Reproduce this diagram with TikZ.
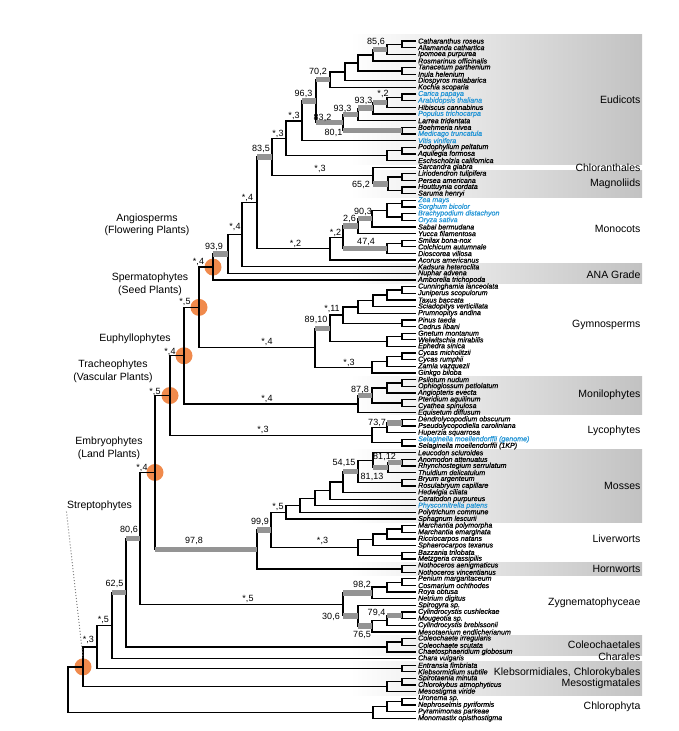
\documentclass[tikz,border=0pt]{standalone}
\usepackage{fontspec}
\setmainfont{Liberation Sans}
\newfontface\taxfont[FakeBold=0.8]{Liberation Sans Italic}
\definecolor{taxblue}{RGB}{38,150,214}
\definecolor{hubcol}{RGB}{240,138,76}
\begin{document}
\begin{tikzpicture}[x=1pt,y=-1pt,line width=1.3pt,
  taxon/.style={anchor=west,inner sep=1.5pt,font=\fontsize{7.1}{7.1}\taxfont},
  blu/.style={taxon,text=taxblue},
  supbar/.style={line width=5.5pt,black!42},
  boot/.style={inner sep=0pt,font=\fontsize{9}{9}\selectfont},
  clade/.style={anchor=east,inner sep=0pt,font=\fontsize{10.5}{10.5}\selectfont},
  grouplab/.style={align=center,inner sep=0pt,font=\fontsize{10.5}{12.5}\selectfont},
  hub/.style={circle,fill=hubcol,minimum size=17pt,inner sep=0pt}]
\useasboundingbox(0,0)rectangle(678,731);

% bands
\shade[left color=white,right color=black!24](350,34)rectangle(642,164);
\shade[left color=white,right color=black!24](350,170.5)rectangle(642,197);
\shade[left color=white,right color=black!24](350,263.5)rectangle(642,283.5);
\shade[left color=white,right color=black!24](350,376)rectangle(642,414);
\shade[left color=white,right color=black!24](350,449.4)rectangle(642,522.4);
\shade[left color=white,right color=black!24](350,562.3)rectangle(642,575.5);
\shade[left color=white,right color=black!24](350,635.3)rectangle(642,655.2);
\shade[left color=white,right color=black!24](350,661.9)rectangle(642,695);

% taxa
\node[taxon](t1) at (416,41.0){Catharanthus roseus};
\node[taxon](t2) at (416,47.6){Allamanda cathartica};
\node[taxon](t3) at (416,54.3){Ipomoea purpurea};
\node[taxon](t4) at (416,60.9){Rosmarinus officinalis};
\node[taxon](t5) at (416,67.6){Tanacetum parthenium};
\node[taxon](t6) at (416,74.2){Inula helenium};
\node[taxon](t7) at (416,80.8){Diospyros malabarica};
\node[taxon](t8) at (416,87.5){Kochia scoparia};
\node[blu](t9) at (416,94.1){Carica papaya};
\node[blu](t10) at (416,100.8){Arabidopsis thaliana};
\node[taxon](t11) at (416,107.4){Hibiscus cannabinus};
\node[blu](t12) at (416,114.0){Populus trichocarpa};
\node[taxon](t13) at (416,120.7){Larrea tridentata};
\node[taxon](t14) at (416,127.3){Boehmeria nivea};
\node[blu](t15) at (416,134.0){Medicago truncatula};
\node[blu](t16) at (416,140.6){Vitis vinifera};
\node[taxon](t17) at (416,147.2){Podophyllum peltatum};
\node[taxon](t18) at (416,153.9){Aquilegia formosa};
\node[taxon](t19) at (416,160.5){Eschscholzia californica};
\node[taxon](t20) at (416,167.2){Sarcandra glabra};
\node[taxon](t21) at (416,173.8){Liriodendron tulipifera};
\node[taxon](t22) at (416,180.4){Persea americana};
\node[taxon](t23) at (416,187.1){Houttuynia cordata};
\node[taxon](t24) at (416,193.7){Saruma henryi};
\node[blu](t25) at (416,200.4){Zea mays};
\node[blu](t26) at (416,207.0){Sorghum bicolor};
\node[blu](t27) at (416,213.6){Brachypodium distachyon};
\node[blu](t28) at (416,220.3){Oryza sativa};
\node[taxon](t29) at (416,226.9){Sabal bermudana};
\node[taxon](t30) at (416,233.6){Yucca filamentosa};
\node[taxon](t31) at (416,240.2){Smilax bona-nox};
\node[taxon](t32) at (416,246.8){Colchicum autumnale};
\node[taxon](t33) at (416,253.5){Dioscorea villosa};
\node[taxon](t34) at (416,260.1){Acorus americanus};
\node[taxon](t35) at (416,266.8){Kadsura heteroclita};
\node[taxon](t36) at (416,273.4){Nuphar advena};
\node[taxon](t37) at (416,280.0){Amborella trichopoda};
\node[taxon](t38) at (416,286.7){Cunninghamia lanceolata};
\node[taxon](t39) at (416,293.3){Juniperus scopulorum};
\node[taxon](t40) at (416,300.0){Taxus baccata};
\node[taxon](t41) at (416,306.6){Sciadopitys verticillata};
\node[taxon](t42) at (416,313.2){Prumnopitys andina};
\node[taxon](t43) at (416,319.9){Pinus taeda};
\node[taxon](t44) at (416,326.5){Cedrus libani};
\node[taxon](t45) at (416,333.2){Gnetum montanum};
\node[taxon](t46) at (416,339.8){Welwitschia mirabilis};
\node[taxon](t47) at (416,346.4){Ephedra sinica};
\node[taxon](t48) at (416,353.1){Cycas micholitzii};
\node[taxon](t49) at (416,359.7){Cycas rumphii};
\node[taxon](t50) at (416,366.4){Zamia vazquezii};
\node[taxon](t51) at (416,373.0){Ginkgo biloba};
\node[taxon](t52) at (416,379.6){Psilotum nudum};
\node[taxon](t53) at (416,386.3){Ophioglossum petiolatum};
\node[taxon](t54) at (416,392.9){Angiopteris evecta};
\node[taxon](t55) at (416,399.6){Pteridium aquilinum};
\node[taxon](t56) at (416,406.2){Cyathea spinulosa};
\node[taxon](t57) at (416,412.8){Equisetum diffusum};
\node[taxon](t58) at (416,419.5){Dendrolycopodium obscurum};
\node[taxon](t59) at (416,426.1){Pseudolycopodiella caroliniana};
\node[taxon](t60) at (416,432.8){Huperzia squarrosa};
\node[blu](t61) at (416,439.4){Selaginella moellendorffii (genome)};
\node[taxon](t62) at (416,446.0){Selaginella moellendorffii {\fontsize{7.1}{7.1}\selectfont(1KP)}};
\node[taxon](t63) at (416,452.7){Leucodon sciuroides};
\node[taxon](t64) at (416,459.3){Anomodon attenuatus};
\node[taxon](t65) at (416,466.0){Rhynchostegium serrulatum};
\node[taxon](t66) at (416,472.6){Thuidium delicatulum};
\node[taxon](t67) at (416,479.2){Bryum argenteum};
\node[taxon](t68) at (416,485.9){Rosulabryum capillare};
\node[taxon](t69) at (416,492.5){Hedwigia ciliata};
\node[taxon](t70) at (416,499.2){Ceratodon purpureus};
\node[blu](t71) at (416,505.8){Physcomitrella patens};
\node[taxon](t72) at (416,512.4){Polytrichum commune};
\node[taxon](t73) at (416,519.1){Sphagnum lescurii};
\node[taxon](t74) at (416,525.7){Marchantia polymorpha};
\node[taxon](t75) at (416,532.4){Marchantia emarginata};
\node[taxon](t76) at (416,539.0){Ricciocarpos natans};
\node[taxon](t77) at (416,545.6){Sphaerocarpos texanus};
\node[taxon](t78) at (416,552.3){Bazzania trilobata};
\node[taxon](t79) at (416,558.9){Metzgeria crassipilis};
\node[taxon](t80) at (416,565.6){Nothoceros aenigmaticus};
\node[taxon](t81) at (416,572.2){Nothoceros vincentianus};
\node[taxon](t82) at (416,578.8){Penium margaritaceum};
\node[taxon](t83) at (416,585.5){Cosmarium ochthodes};
\node[taxon](t84) at (416,592.1){Roya obtusa};
\node[taxon](t85) at (416,598.8){Netrium digitus};
\node[taxon](t86) at (416,605.4){Spirogyra sp.};
\node[taxon](t87) at (416,612.0){Cylindrocystis cushleckae};
\node[taxon](t88) at (416,618.7){Mougeotia sp.};
\node[taxon](t89) at (416,625.3){Cylindrocystis brebissonii};
\node[taxon](t90) at (416,632.0){Mesotaenium endlicherianum};
\node[taxon](t91) at (416,638.6){Coleochaete irregularis};
\node[taxon](t92) at (416,645.2){Coleochaete scutata};
\node[taxon](t93) at (416,651.9){Chaetosphaeridium globosum};
\node[taxon](t94) at (416,658.5){Chara vulgaris};
\node[taxon](t95) at (416,665.2){Entransia fimbriata};
\node[taxon](t96) at (416,671.8){Klebsormidium subtile};
\node[taxon](t97) at (416,678.4){Spirotaenia minuta};
\node[taxon](t98) at (416,685.1){Chlorokybus atmophyticus};
\node[taxon](t99) at (416,691.7){Mesostigma viride};
\node[taxon](t100) at (416,698.4){Uronema sp.};
\node[taxon](t101) at (416,705.0){Nephroselmis pyriformis};
\node[taxon](t102) at (416,711.6){Pyramimonas parkeae};
\node[taxon](t103) at (416,718.3){Monomastix opisthostigma};

% inner nodes
\coordinate(e1) at (402,44.3);
\coordinate(e2) at (387,49.3);
\coordinate(e3) at (373,55.1);
\coordinate(e4) at (402,70.9);
\coordinate(e5) at (358,63.0);
\coordinate(e6) at (345,71.9);
\coordinate(e7) at (330,79.7);
\coordinate(e8) at (402,97.45);
\coordinate(e9) at (387,102.4);
\coordinate(e10) at (373,108.2);
\coordinate(e11) at (358,114.45);
\coordinate(e12) at (402,130.65);
\coordinate(e13) at (343,122.55);
\coordinate(e14) at (316,101.1);
\coordinate(e15) at (302,120.85);
\coordinate(e16) at (402,150.55);
\coordinate(e17) at (387,155.5);
\coordinate(e18) at (286,138.2);
\coordinate(m1) at (402,177.1);
\coordinate(m2) at (402,190.4);
\coordinate(m3) at (388,183.75);
\coordinate(m4) at (373,175.5);
\coordinate(a1) at (272,156.85);
\coordinate(c1) at (402,203.7);
\coordinate(c2) at (402,216.95);
\coordinate(c3) at (387,210.3);
\coordinate(c4) at (372,218.6);
\coordinate(c5) at (358,226.1);
\coordinate(c6) at (402,243.5);
\coordinate(c7) at (387,248.5);
\coordinate(c8) at (343,237.3);
\coordinate(c9) at (330,248.7);
\coordinate(a2) at (257,202.8);
\coordinate(a3) at (242,234.8);
\coordinate(a4) at (228,254.1);
\coordinate(angio) at (213,267.05);
\coordinate(g1) at (402,290.0);
\coordinate(g2) at (387,295.0);
\coordinate(g3) at (373,300.8);
\coordinate(g4) at (358,307.0);
\coordinate(g5) at (402,323.2);
\coordinate(g6) at (343,315.1);
\coordinate(g7) at (402,336.5);
\coordinate(g8) at (387,341.45);
\coordinate(g9) at (330,328.3);
\coordinate(g10) at (402,356.4);
\coordinate(g11) at (387,361.4);
\coordinate(g12) at (372,367.2);
\coordinate(gymno) at (315,347.75);
\coordinate(sperm) at (199,307.4);
\coordinate(f1) at (402,382.95);
\coordinate(f2) at (387,387.9);
\coordinate(f3) at (402,402.9);
\coordinate(f4) at (372,395.4);
\coordinate(moni) at (358,404.1);
\coordinate(euph) at (184,355.75);
\coordinate(l1) at (402,422.8);
\coordinate(l2) at (387,427.8);
\coordinate(l3) at (402,442.7);
\coordinate(lyco) at (372,435.25);
\coordinate(trach) at (170,395.5);
\coordinate(b1) at (402,462.65);
\coordinate(b2) at (388,467.6);
\coordinate(b3) at (373,460.15);
\coordinate(b4) at (402,482.55);
\coordinate(b5) at (358,471.35);
\coordinate(b6) at (343,481.9);
\coordinate(b7) at (330,490.55);
\coordinate(b8) at (315,498.2);
\coordinate(b9) at (300,505.3);
\coordinate(moss) at (286,512.2);
\coordinate(v1) at (402,529.05);
\coordinate(v2) at (387,534.0);
\coordinate(v3) at (373,539.8);
\coordinate(v4) at (402,555.6);
\coordinate(liv) at (358,547.7);
\coordinate(b10) at (271,529.95);
\coordinate(horn) at (402,568.9);
\coordinate(bryo) at (257,549.4);
\coordinate(embryo) at (155,472.45);
\coordinate(z1) at (402,582.15);
\coordinate(z2) at (387,587.1);
\coordinate(z3) at (372,592.95);
\coordinate(z4) at (402,615.35);
\coordinate(z5) at (387,620.3);
\coordinate(z6) at (372,626.15);
\coordinate(z7) at (358,615.8);
\coordinate(zyg) at (343,604.4);
\coordinate(s1) at (140,538.4);
\coordinate(k1) at (402,641.9);
\coordinate(k2) at (387,646.9);
\coordinate(s2) at (126,592.65);
\coordinate(s3) at (112,625.6);
\coordinate(k3) at (402,668.5);
\coordinate(s4) at (97,647.05);
\coordinate(k4) at (402,681.75);
\coordinate(k5) at (387,686.7);
\coordinate(strep) at (83,666.9);
\coordinate(p1) at (402,701.7);
\coordinate(p2) at (387,706.65);
\coordinate(p3) at (373,712.5);
\coordinate(root) at (68,689.7);

% orange dots
\node[hub](cAngio) at (angio){};
\node[hub](cSperm) at (sperm){};
\node[hub](cEuph) at (euph){};
\node[hub](cTrach) at (trach){};
\node[hub](cEmbryo) at (embryo){};
\node[hub](cStrep) at (strep){};

% branches
\draw(t1.west)-|(e1)|-(t2.west);
\draw(e1)-|(e2)|-(t3.west);
\draw(e2)-|(e3)|-(t4.west);
\draw(t5.west)-|(e4)|-(t6.west);
\draw(e3)-|(e5)|-(e4);
\draw(e5)-|(e6)|-(t7.west);
\draw(e6)-|(e7)|-(t8.west);
\draw(t9.west)-|(e8)|-(t10.west);
\draw(e8)-|(e9)|-(t11.west);
\draw(e9)-|(e10)|-(t12.west);
\draw(e10)-|(e11)|-(t13.west);
\draw(t14.west)-|(e12)|-(t15.west);
\draw(e11)-|(e13)|-(e12);
\draw(e7)-|(e14)|-(e13);
\draw(e14)-|(e15)|-(t16.west);
\draw(t17.west)-|(e16)|-(t18.west);
\draw(e16)-|(e17)|-(t19.west);
\draw(e15)-|(e18)|-(e17);
\draw(t21.west)-|(m1)|-(t22.west);
\draw(t23.west)-|(m2)|-(t24.west);
\draw(m1)-|(m3)|-(m2);
\draw(t20.west)-|(m4)|-(m3);
\draw(e18)-|(a1)|-(m4);
\draw(t25.west)-|(c1)|-(t26.west);
\draw(t27.west)-|(c2)|-(t28.west);
\draw(c1)-|(c3)|-(c2);
\draw(c3)-|(c4)|-(t29.west);
\draw(c4)-|(c5)|-(t30.west);
\draw(t31.west)-|(c6)|-(t32.west);
\draw(c6)-|(c7)|-(t33.west);
\draw(c5)-|(c8)|-(c7);
\draw(c8)-|(c9)|-(t34.west);
\draw(a1)-|(a2)|-(c9);
\draw(a2)-|(a3)|-(t35.west);
\draw(a3)-|(a4)|-(t36.west);
\draw(a4)-|(angio)|-(t37.west);
\draw(t38.west)-|(g1)|-(t39.west);
\draw(g1)-|(g2)|-(t40.west);
\draw(g2)-|(g3)|-(t41.west);
\draw(g3)-|(g4)|-(t42.west);
\draw(t43.west)-|(g5)|-(t44.west);
\draw(g4)-|(g6)|-(g5);
\draw(t45.west)-|(g7)|-(t46.west);
\draw(g7)-|(g8)|-(t47.west);
\draw(g6)-|(g9)|-(g8);
\draw(t48.west)-|(g10)|-(t49.west);
\draw(g10)-|(g11)|-(t50.west);
\draw(g11)-|(g12)|-(t51.west);
\draw(g9)-|(gymno)|-(g12);
\draw(angio)-|(sperm)|-(gymno);
\draw(t52.west)-|(f1)|-(t53.west);
\draw(f1)-|(f2)|-(t54.west);
\draw(t55.west)-|(f3)|-(t56.west);
\draw(f2)-|(f4)|-(f3);
\draw(f4)-|(moni)|-(t57.west);
\draw(sperm)-|(euph)|-(moni);
\draw(t58.west)-|(l1)|-(t59.west);
\draw(l1)-|(l2)|-(t60.west);
\draw(t61.west)-|(l3)|-(t62.west);
\draw(l2)-|(lyco)|-(l3);
\draw(euph)-|(trach)|-(lyco);
\draw(t64.west)-|(b1)|-(t65.west);
\draw(b1)-|(b2)|-(t66.west);
\draw(t63.west)-|(b3)|-(b2);
\draw(t67.west)-|(b4)|-(t68.west);
\draw(b3)-|(b5)|-(b4);
\draw(b5)-|(b6)|-(t69.west);
\draw(b6)-|(b7)|-(t70.west);
\draw(b7)-|(b8)|-(t71.west);
\draw(b8)-|(b9)|-(t72.west);
\draw(b9)-|(moss)|-(t73.west);
\draw(t74.west)-|(v1)|-(t75.west);
\draw(v1)-|(v2)|-(t76.west);
\draw(v2)-|(v3)|-(t77.west);
\draw(t78.west)-|(v4)|-(t79.west);
\draw(v3)-|(liv)|-(v4);
\draw(moss)-|(b10)|-(liv);
\draw(t80.west)-|(horn)|-(t81.west);
\draw(b10)-|(bryo)|-(horn);
\draw(trach)-|(embryo)|-(bryo);
\draw(t82.west)-|(z1)|-(t83.west);
\draw(z1)-|(z2)|-(t84.west);
\draw(z2)-|(z3)|-(t85.west);
\draw(t87.west)-|(z4)|-(t88.west);
\draw(z4)-|(z5)|-(t89.west);
\draw(z5)-|(z6)|-(t90.west);
\draw(t86.west)-|(z7)|-(z6);
\draw(z3)-|(zyg)|-(z7);
\draw(embryo)-|(s1)|-(zyg);
\draw(t91.west)-|(k1)|-(t92.west);
\draw(k1)-|(k2)|-(t93.west);
\draw(s1)-|(s2)|-(k2);
\draw(s2)-|(s3)|-(t94.west);
\draw(t95.west)-|(k3)|-(t96.west);
\draw(s3)-|(s4)|-(k3);
\draw(t97.west)-|(k4)|-(t98.west);
\draw(k4)-|(k5)|-(t99.west);
\draw(s4)-|(strep)|-(k5);
\draw(t100.west)-|(p1)|-(t101.west);
\draw(p1)-|(p2)|-(t102.west);
\draw(p2)-|(p3)|-(t103.west);
\draw(strep)-|(root)|-(p3);

% supported branches
\draw[supbar](e3|-e2)--(e2);
\draw[supbar](e14|-e7)--(e7);
\draw[supbar](e15|-e14)--(e14);
\draw[supbar](e10|-e9)--(e9);
\draw[supbar](e11|-e10)--(e10);
\draw[supbar](e13|-e11)--(e11);
\draw[supbar](e14|-e13)--(e13);
\draw[supbar](e13|-e12)--(e12);
\draw[supbar](m4|-m3)--(m3);
\draw[supbar](a2|-a1)--(a1);
\draw[supbar](c5|-c4)--(c4);
\draw[supbar](c8|-c5)--(c5);
\draw[supbar](c8|-c7)--(c7);
\draw[supbar](angio|-a4)--(a4);
\draw[supbar](gymno|-g9)--(g9);
\draw[supbar](moni|-f4)--(f4);
\draw[supbar](l2|-l1)--(l1);
\draw[supbar](b2|-b1)--(b1);
\draw[supbar](b3|-b2)--(b2);
\draw[supbar](b6|-b5)--(b5);
\draw[supbar](bryo|-b10)--(b10);
\draw[supbar](embryo|-bryo)--(bryo);
\draw[supbar](zyg|-z3)--(z3);
\draw[supbar](zyg|-z7)--(z7);
\draw[supbar](z5|-z4)--(z4);
\draw[supbar](z7|-z6)--(z6);
\draw[supbar](s2|-s1)--(s1);
\draw[supbar](s3|-s2)--(s2);

% support values
\node[boot](bs1) at (376,41.5){85,6};
\node[boot](bs2) at (318,72){70,2};
\node[boot](bs3) at (303.5,94){96,3};
\node[boot](bs4) at (383,94){*,2};
\node[boot](bs5) at (363.5,101){93,3};
\node[boot](bs6) at (342.5,109){93,3};
\node[boot](bs7) at (322.5,118){83,2};
\node[boot](bs8) at (294,116){*,3};
\node[boot](bs9) at (333.5,133){80,1};
\node[boot](bs10) at (278,133.5){*,3};
\node[boot](bs11) at (261,148.5){83,5};
\node[boot](bs12) at (320,169){*,3};
\node[boot](bs13) at (361,185){65,2};
\node[boot](bs14) at (247.5,198){*,4};
\node[boot](bs15) at (363,212){90,3};
\node[boot](bs16) at (349.5,219){2,6};
\node[boot](bs17) at (235,226.5){*,4};
\node[boot](bs18) at (335.5,233){*,2};
\node[boot](bs19) at (366,242){47,4};
\node[boot](bs20) at (295.5,244){*,2};
\node[boot](bs21) at (214,246.5){93,9};
\node[boot](bs22) at (198.5,261.5){*,4};
\node[boot](bs23) at (185,301.5){*,5};
\node[boot](bs24) at (332,309){*,11};
\node[boot](bs25) at (316,319.5){89,10};
\node[boot](bs26) at (267,341.5){*,4};
\node[boot](bs27) at (170,351.5){*,4};
\node[boot](bs28) at (349,363){*,3};
\node[boot](bs29) at (360,389.5){87,8};
\node[boot](bs30) at (155,391.5){*,5};
\node[boot](bs31) at (267,398.5){*,4};
\node[boot](bs32) at (377,422.5){73,7};
\node[boot](bs33) at (263,430){*,3};
\node[boot](bs34) at (384.5,457){81,12};
\node[boot](bs35) at (344,463){54,15};
\node[boot](bs36) at (142,467.5){*,4};
\node[boot](bs37) at (372,477){81,13};
\node[boot](bs38) at (278,507){*,5};
\node[boot](bs39) at (260,521.5){99,9};
\node[boot](bs40) at (129,530){80,6};
\node[boot](bs41) at (322.5,541){*,3};
\node[boot](bs42) at (194,541){97,8};
\node[boot](bs43) at (114.5,583.5){62,5};
\node[boot](bs44) at (362,585){98,2};
\node[boot](bs45) at (248,598.5){*,5};
\node[boot](bs46) at (376.5,612.5){79,4};
\node[boot](bs47) at (331,617){30,6};
\node[boot](bs48) at (103.5,620){*,5};
\node[boot](bs49) at (362,635){76,5};
\node[boot](bs50) at (88.5,640){*,3};

% clade names
\node[clade](Q1) at (641,100){Eudicots};
\node[clade](Q2) at (641,168){Chloranthales};
\node[clade](Q3) at (641,184){Magnoliids};
\node[clade](Q4) at (641,229){Monocots};
\node[clade](Q5) at (641,275){ANA Grade};
\node[clade](Q6) at (641,325){Gymnosperms};
\node[clade](Q7) at (641,395){Monilophytes};
\node[clade](Q8) at (641,431){Lycophytes};
\node[clade](Q9) at (641,486){Mosses};
\node[clade](Q10) at (641,539){Liverworts};
\node[clade](Q11) at (641,569){Hornworts};
\node[clade](Q12) at (641,603){Zygnematophyceae};
\node[clade](Q13) at (641,645){Coleochaetales};
\node[clade](Q14) at (641,657){Charales};
\node[clade](Q15) at (641,673){Klebsormidiales, Chlorokybales};
\node[clade](Q16) at (641,684){Mesostigmatales};
\node[clade](Q17) at (641,707){Chlorophyta};

% named groups
\node[grouplab](angioLab) at (147,225){Angiosperms\\(Flowering Plants)};
\node[grouplab](spermLab) at (150,284.5){Spermatophytes\\(Seed Plants)};
\node[grouplab](euphLab) at (135,339){Euphyllophytes};
\node[grouplab](trachLab) at (113,371.5){Tracheophytes\\(Vascular Plants)};
\node[grouplab](embryoLab) at (109,448.5){Embryophytes\\(Land Plants)};
\node[grouplab](strepLab) at (99.5,506){Streptophytes};
\draw[dotted,black!50,line width=1pt](strepLab.south west)--(cStrep.north);
\end{tikzpicture}
\end{document}
